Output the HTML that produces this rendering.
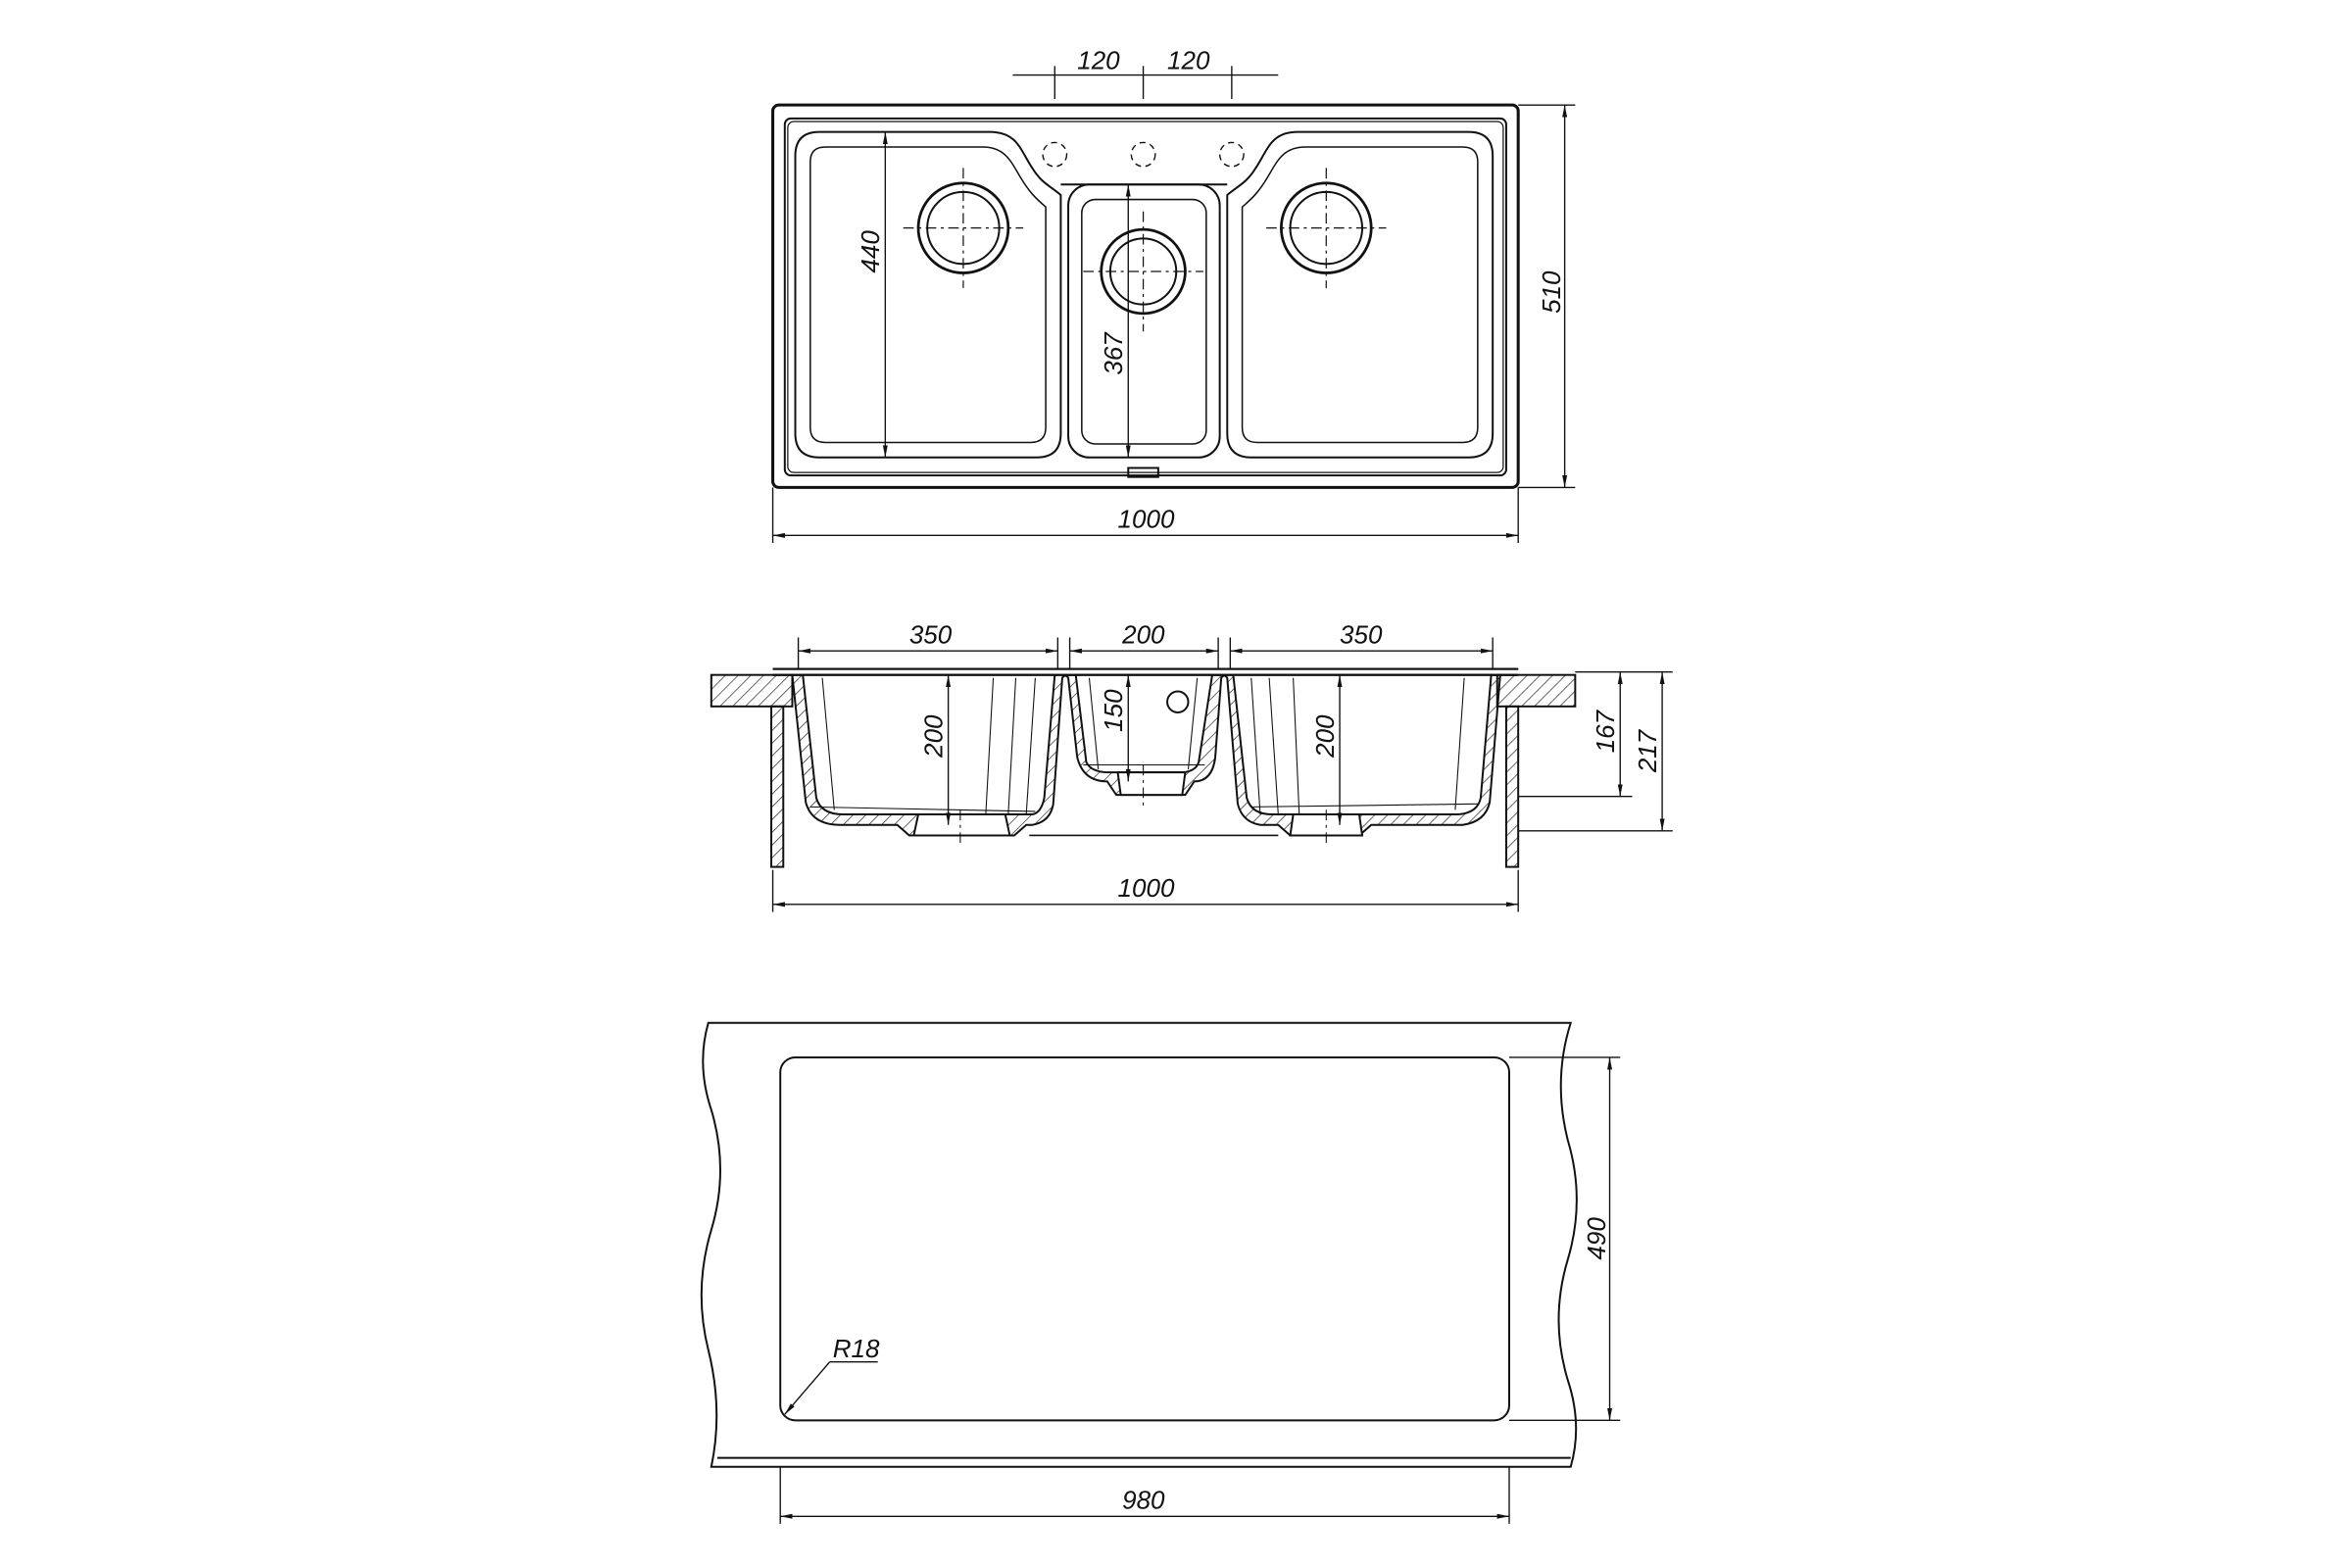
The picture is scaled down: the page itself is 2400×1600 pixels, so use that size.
<!DOCTYPE html>
<html><head><meta charset="utf-8"><style>
html,body{margin:0;padding:0;background:#fff;}
svg{display:block}
text{font-family:"Liberation Sans",sans-serif;font-style:italic;font-size:17px;fill:#111}
</style></head><body>
<svg width="2400" height="1600" viewBox="0 0 1552 1035" xmlns="http://www.w3.org/2000/svg">
<defs>
<marker id="a" viewBox="0 0 10 10" refX="10" refY="5" markerWidth="9" markerHeight="9" orient="auto-start-reverse"><path d="M0,3 L10,5 L0,7 z" fill="#111"/></marker>
<pattern id="h" width="6" height="6" patternUnits="userSpaceOnUse" patternTransform="rotate(45)"><line x1="0" y1="0" x2="0" y2="6" stroke="#222" stroke-width="0.9"/></pattern>
</defs>
<g transform="scale(0.99)">
<g fill="none" stroke="#111" stroke-width="1.3">
<!-- TOP VIEW -->
<rect x="515" y="70" width="497" height="255" rx="4" stroke-width="2"/>
<rect x="523" y="79" width="481" height="238" rx="4"/>
<rect x="525" y="81" width="477" height="234" rx="4" stroke-width="0.8"/>
<path d="M546,88 H660 C678,88 680,100 688,112 C694,122 700,124 707,130 V289 Q707,305 691,305 H546 Q530,305 530,289 V104 Q530,88 546,88 Z"/>
<path d="M550,98 H655 C670,98 674,108 680,118 C686,128 690,132 697,138 V285 Q697,295 687,295 H550 Q540,295 540,285 V108 Q540,98 550,98 Z" stroke-width="1"/>
<path d="M979,88 H865 C847,88 845,100 837,112 C831,122 825,124 818,130 V289 Q818,305 834,305 H979 Q995,305 995,289 V104 Q995,88 979,88 Z"/>
<path d="M975,98 H870 C855,98 851,108 845,118 C839,128 835,132 828,138 V285 Q828,295 838,295 H975 Q985,295 985,285 V108 Q985,98 975,98 Z" stroke-width="1"/>
<rect x="712" y="123" width="101" height="182" rx="14"/>
<rect x="721" y="133" width="83" height="163" rx="9" stroke-width="1"/>
<line x1="707" y1="123" x2="818" y2="123"/>
<circle cx="642" cy="152" r="30" stroke-width="1.8"/><circle cx="642" cy="152" r="24"/>
<circle cx="762" cy="181" r="28" stroke-width="1.8"/><circle cx="762" cy="181" r="22"/>
<circle cx="884" cy="152" r="30" stroke-width="1.8"/><circle cx="884" cy="152" r="24"/>
<g stroke-dasharray="7 3 2 3" stroke-width="0.8">
<line x1="602" y1="152" x2="682" y2="152"/><line x1="642" y1="112" x2="642" y2="192"/>
<line x1="722" y1="181" x2="802" y2="181"/><line x1="762" y1="141" x2="762" y2="221"/>
<line x1="844" y1="152" x2="924" y2="152"/><line x1="884" y1="112" x2="884" y2="192"/>
</g>
<g stroke-dasharray="4 3" stroke-width="0.9">
<circle cx="703" cy="103" r="8"/><circle cx="762" cy="103" r="8"/><circle cx="821" cy="103" r="8"/>
</g>
<rect x="752" y="312" width="20" height="6"/>
<!-- dims top -->
<g stroke-width="0.9">
<line x1="675" y1="50" x2="852" y2="50"/>
<line x1="703" y1="44" x2="703" y2="66"/><line x1="762" y1="44" x2="762" y2="66"/><line x1="821" y1="44" x2="821" y2="66"/>
<line x1="1012" y1="70" x2="1050" y2="70"/><line x1="1012" y1="325" x2="1050" y2="325"/>
<line x1="1043" y1="70" x2="1043" y2="325" marker-start="url(#a)" marker-end="url(#a)"/>
<line x1="515" y1="325" x2="515" y2="362"/><line x1="1012" y1="325" x2="1012" y2="362"/>
<line x1="515" y1="357" x2="1012" y2="357" marker-start="url(#a)" marker-end="url(#a)"/>
<line x1="590" y1="88" x2="590" y2="305" marker-start="url(#a)" marker-end="url(#a)"/>
<line x1="752" y1="123" x2="752" y2="305" marker-start="url(#a)" marker-end="url(#a)"/>
</g>
<!-- SECTION VIEW -->
<rect x="474" y="450" width="54" height="21" fill="url(#h)"/>
<rect x="998" y="450" width="52" height="21" fill="url(#h)"/>
<rect x="514" y="471" width="8" height="107" fill="url(#h)"/>
<rect x="1004" y="471" width="8" height="107" fill="url(#h)"/>
<path d="M515,446 H1012 M515,450 H1012"/>
<path d="M528,450 L537,535 Q541,550 560,550 H598 L606,557 H676 L684,550 H688 Q700,548 702,536 L708,452 Q710,449 712,452 L718,505 Q722,521 738,521 L744,530 H790 L796,521 Q808,521 810,505 L814,452 Q816,449 818,452 L825,536 Q828,548 840,550 H852 L860,557 H906 L914,550 H975 Q990,548 993,535 L1000,450 Z" fill="url(#h)"/>
<path d="M535,450 L544,532 Q547,543 562,543 H688 Q694,542 696,532 L703,450 Z" fill="#fff"/>
<path d="M717,450 L724,508 Q727,515 740,515 H786 Q797,515 799,508 L808,450 Z" fill="#fff"/>
<path d="M822,450 L831,532 Q834,543 848,543 H972 Q985,542 987,532 L994,450 Z" fill="#fff"/>
<path d="M612,543 H670 L673,557 H609 Z" fill="#fff"/>
<path d="M745,515 H790 L788,530 H747 Z" fill="#fff"/>
<path d="M862,543 H906 L908,557 H860 Z" fill="#fff"/>
<path d="M515,446 H1012 M515,450 H1012"/>
<line x1="686" y1="557" x2="852" y2="557" stroke-width="1"/>
<g stroke-width="0.7">
<line x1="548" y1="452" x2="556" y2="540"/><line x1="662" y1="452" x2="657" y2="543"/><line x1="677" y1="452" x2="672" y2="543"/><line x1="690" y1="452" x2="684" y2="543"/>
<line x1="540" y1="538" x2="690" y2="541"/>
<line x1="726" y1="452" x2="732" y2="513"/><line x1="798" y1="452" x2="792" y2="513"/><line x1="722" y1="510" x2="803" y2="510"/>
<line x1="834" y1="452" x2="840" y2="543"/><line x1="846" y1="452" x2="852" y2="543"/><line x1="862" y1="452" x2="866" y2="543"/><line x1="976" y1="452" x2="970" y2="540"/>
<line x1="835" y1="538" x2="985" y2="536"/>
</g>
<circle cx="785" cy="468" r="7"/>
<g stroke-dasharray="7 3 2 3" stroke-width="0.7">
<line x1="640" y1="540" x2="640" y2="565"/><line x1="762" y1="510" x2="762" y2="540"/><line x1="884" y1="540" x2="884" y2="565"/>
</g>
<g stroke-width="0.9">
<line x1="532" y1="425" x2="532" y2="446"/><line x1="705" y1="425" x2="705" y2="446"/>
<line x1="713" y1="425" x2="713" y2="446"/><line x1="812" y1="425" x2="812" y2="446"/>
<line x1="820" y1="425" x2="820" y2="446"/><line x1="995" y1="425" x2="995" y2="446"/>
<line x1="532" y1="434" x2="705" y2="434" marker-start="url(#a)" marker-end="url(#a)"/>
<line x1="713" y1="434" x2="812" y2="434" marker-start="url(#a)" marker-end="url(#a)"/>
<line x1="820" y1="434" x2="995" y2="434" marker-start="url(#a)" marker-end="url(#a)"/>
<line x1="632" y1="450" x2="632" y2="550" marker-start="url(#a)" marker-end="url(#a)"/>
<line x1="752" y1="450" x2="752" y2="521" marker-start="url(#a)" marker-end="url(#a)"/>
<line x1="893" y1="450" x2="893" y2="550" marker-start="url(#a)" marker-end="url(#a)"/>
<line x1="1050" y1="448" x2="1115" y2="448"/>
<line x1="1012" y1="531" x2="1088" y2="531"/>
<line x1="1012" y1="554" x2="1115" y2="554"/>
<line x1="1080" y1="448" x2="1080" y2="531" marker-start="url(#a)" marker-end="url(#a)"/>
<line x1="1108" y1="448" x2="1108" y2="554" marker-start="url(#a)" marker-end="url(#a)"/>
<line x1="515" y1="580" x2="515" y2="608"/><line x1="1012" y1="580" x2="1012" y2="608"/>
<line x1="515" y1="603" x2="1012" y2="603" marker-start="url(#a)" marker-end="url(#a)"/>
</g>
<!-- CUTOUT -->
<path d="M472,682 H1047 Q1035,720 1045,760 Q1057,800 1045,840 Q1033,880 1045,920 Q1055,950 1047,978 H474 Q482,940 472,900 Q462,860 474,820 Q486,780 474,740 Q464,710 472,682 Z"/>
<line x1="478" y1="972" x2="1047" y2="972"/>
<rect x="520" y="705" width="486" height="242" rx="10"/>
<g stroke-width="0.9">
<line x1="1006" y1="705" x2="1080" y2="705"/><line x1="1006" y1="947" x2="1080" y2="947"/>
<line x1="1073" y1="705" x2="1073" y2="947" marker-start="url(#a)" marker-end="url(#a)"/>
<line x1="520" y1="978" x2="520" y2="1016"/><line x1="1006" y1="978" x2="1006" y2="1016"/>
<line x1="520" y1="1011" x2="1006" y2="1011" marker-start="url(#a)" marker-end="url(#a)"/>
<line x1="585" y1="908" x2="553" y2="908"/>
<line x1="553" y1="908" x2="523" y2="943" marker-end="url(#a)"/>
</g>
</g>
<text x="718" y="46">120</text><text x="778" y="46">120</text>
<text x="745" y="352">1000</text>
<text transform="translate(1040,209) rotate(-90)">510</text>
<text transform="translate(586,182) rotate(-90)">440</text>
<text transform="translate(748,250) rotate(-90)">367</text>
<text x="606" y="429">350</text><text x="748" y="429">200</text><text x="893" y="429">350</text>
<text transform="translate(628,505) rotate(-90)">200</text>
<text transform="translate(748,488) rotate(-90)">150</text>
<text transform="translate(889,505) rotate(-90)">200</text>
<text transform="translate(1076,502) rotate(-90)">167</text>
<text transform="translate(1104,515) rotate(-90)">217</text>
<text x="745" y="598">1000</text>
<text transform="translate(1070,840) rotate(-90)">490</text>
<text x="748" y="1006">980</text>
<text x="555" y="905">R18</text>
</g>
</svg>
</body></html>
